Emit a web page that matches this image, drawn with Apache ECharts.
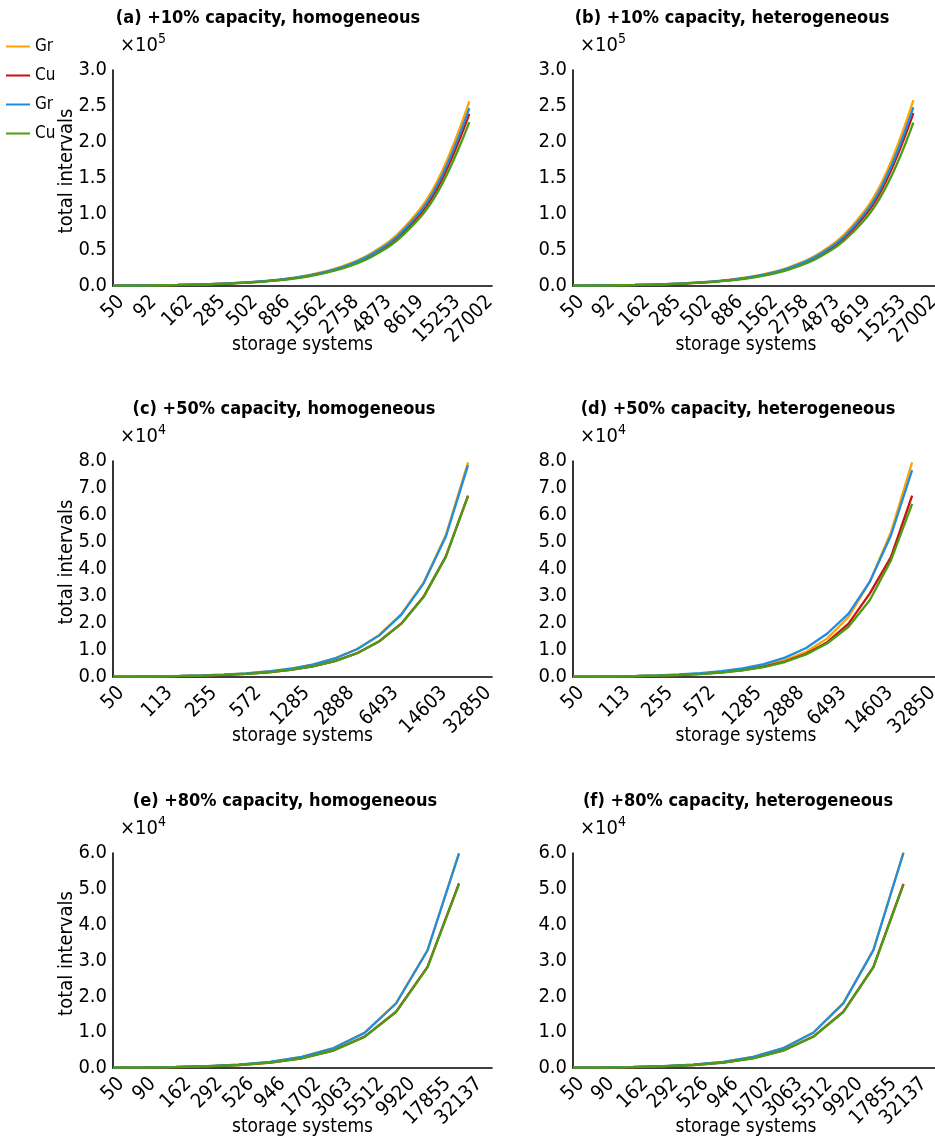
<!DOCTYPE html>
<html>
<head>
<meta charset="utf-8">
<script src="https://cdn.jsdelivr.net/npm/echarts@6/dist/echarts.min.js"></script>
<style>
  html, body { margin: 0; padding: 0; background: #fff; }
  #chart { width: 935px; height: 1142px; }
</style>
</head>
<body>
<div id="chart"></div>
<script>
// ---- storage-system counts (x categories) ----
const sys10 = [50, 92, 162, 285, 502, 886, 1562, 2758, 4873, 8619, 15253, 27002];
const sys50 = [50, 75, 113, 170, 255, 381, 572, 857, 1285, 1925, 2888, 4329, 6493, 9735, 14603, 21900, 32850];
const sys80 = [50, 90, 162, 292, 526, 946, 1702, 3063, 5512, 9920, 17855, 32137];

// ---- total intervals, +10% capacity ----
const a_gr1 = [480, 880, 1540, 2710, 4770, 8420, 14840, 26200, 46300, 81900, 144900, 256500];
const a_cu1 = [440, 815, 1430, 2520, 4440, 7840, 13820, 24400, 43100, 76200, 134900, 239000];
const a_gr2 = [460, 845, 1480, 2610, 4590, 8110, 14290, 25240, 44600, 78800, 139500, 247000];
const a_cu2 = [420, 775, 1365, 2400, 4230, 7470, 13170, 23250, 41100, 72700, 128600, 227600];

const b_gr1 = [485, 885, 1550, 2730, 4800, 8470, 14930, 26350, 46600, 82400, 145800, 258000];
const b_cu1 = [445, 820, 1440, 2530, 4460, 7880, 13880, 24500, 43300, 76600, 135600, 240000];
const b_gr2 = [465, 850, 1490, 2625, 4620, 8160, 14380, 25380, 44850, 79300, 140300, 248000];
const b_cu2 = [420, 772, 1360, 2395, 4220, 7450, 13140, 23200, 41000, 72500, 128300, 227000];

// ---- total intervals, +50% capacity ----
const c_gr1 = [120, 180, 270, 410, 610, 910, 1370, 2050, 3080, 4620, 6930, 10390, 15580, 23360, 35050, 52560, 79500];
const c_cu1 = [102, 153, 230, 347, 520, 777, 1167, 1748, 2620, 3930, 5890, 8830, 13240, 19850, 29780, 44670, 67200];
const c_gr2 = [118, 178, 268, 405, 605, 905, 1360, 2030, 3050, 4570, 6860, 10280, 15420, 23120, 34680, 52000, 78500];
const c_cu2 = [101, 152, 229, 345, 518, 774, 1162, 1742, 2610, 3910, 5870, 8800, 13190, 19780, 29670, 44500, 67000];

const d_gr1 = [108, 162, 244, 366, 550, 820, 1230, 1850, 2770, 4150, 6230, 9340, 14300, 22200, 35200, 53600, 79500];
const d_cu1 = [99, 149, 225, 338, 507, 758, 1138, 1705, 2557, 3830, 5740, 8610, 12900, 19800, 30900, 44400, 67200];
const d_gr2 = [124, 186, 280, 422, 632, 945, 1420, 2125, 3190, 4780, 7160, 10740, 16100, 23500, 35200, 52400, 76600];
const d_cu2 = [96, 144, 217, 327, 490, 733, 1100, 1648, 2470, 3700, 5550, 8320, 12500, 18600, 28400, 43200, 64100];

// ---- total intervals, +80% capacity ----
const e_gr1 = [91, 164, 294, 530, 955, 1720, 3100, 5530, 9850, 18100, 32900, 60000];
const e_cu1 = [80, 144, 259, 467, 840, 1510, 2720, 4880, 8750, 15700, 28200, 51500];
const e_gr2 = [90, 162, 292, 526, 950, 1710, 3080, 5500, 9800, 18000, 32800, 59800];
const e_cu2 = [79, 143, 257, 464, 835, 1500, 2700, 4830, 8700, 15600, 28100, 51300];

const f_gr1 = [92, 165, 296, 533, 960, 1730, 3110, 5560, 9900, 18200, 33000, 60200];
const f_cu1 = [80, 145, 260, 468, 842, 1515, 2725, 4890, 8770, 15750, 28250, 51400];
const f_gr2 = [90, 163, 293, 528, 952, 1715, 3090, 5520, 9830, 18050, 32900, 60000];
const f_cu2 = [79, 143, 258, 465, 836, 1502, 2705, 4840, 8710, 15620, 28120, 51200];

// ---- panel titles and legend labels ----
const panelTitles = [
  '(a) +10% capacity, homogeneous', '(b) +10% capacity, heterogeneous',
  '(c) +50% capacity, homogeneous', '(d) +50% capacity, heterogeneous',
  '(e) +80% capacity, homogeneous', '(f) +80% capacity, heterogeneous'
];
const seriesKeys = ['gr1', 'cu1', 'gr2', 'cu2'];
const legendLabels = { gr1: 'Gr', cu1: 'Cu', gr2: 'Gr', cu2: 'Cu' };

// ---- styling ----
const FONT = "'Liberation Sans Narrow', 'DejaVu Sans Condensed', 'Roboto Condensed', sans-serif";
const TICK_SIZE = 20;
const NAME_SIZE = 19;
const TITLE_SIZE = 18;
const COLORS = { gr1: '#FFA300', cu1: '#CC1010', gr2: '#1F8DE2', cu2: '#4A9C12' };
const LINE_W = 2.3;

const leftX = 113, rightX = 573, leftW = 379, rightW = 362;
const rowTop = [70, 461, 853];
const rowH = [216, 216, 215];

const measureCtx = document.createElement('canvas').getContext('2d');
function textWidth(s) {
  measureCtx.font = TICK_SIZE + 'px ' + FONT;
  return measureCtx.measureText(String(s)).width;
}

// Rotated tick labels centred under their tick: each label is pushed down
// according to its own length, so every label's bounding box starts at the same depth.
function xAxisFor(gridIndex, cats, max, step, isLeft) {
  const widths = cats.map(textWidth);
  const shownW = widths.filter((_, i) => i % step === 0);
  const lmin = Math.min.apply(null, shownW);
  const rich = {};
  cats.forEach((c, i) => {
    const p = 0.5 * (widths[i] - lmin);
    rich['t' + i] = { fontSize: TICK_SIZE, fontFamily: FONT, color: '#000', padding: [p, p, 0, 0] };
  });
  return {
    type: 'value', gridIndex, min: 0, max, interval: step,
    axisLine: { show: true, onZero: false, lineStyle: { color: '#000', width: 1.6 } },
    axisTick: { show: false },
    splitLine: { show: false },
    axisLabel: {
      rotate: 45, align: 'center', verticalAlign: 'middle',
      margin: 6 + 0.3535 * (TICK_SIZE + lmin),
      fontSize: TICK_SIZE, fontFamily: FONT, color: '#000',
      formatter: v => (Number.isInteger(v) && v < cats.length) ? '{t' + v + '|' + cats[v] + '}' : '',
      rich
    },
    name: 'storage systems', nameLocation: 'middle', nameGap: 50, nameMoveOverlap: false,
    nameTextStyle: { fontSize: NAME_SIZE, fontFamily: FONT, color: '#000',
                     padding: isLeft ? 0 : [0, 16, 0, 0] }
  };
}

function yAxisFor(gridIndex, max, interval, scale, withName) {
  return {
    type: 'value', gridIndex, min: 0, max, interval,
    axisLine: { show: true, lineStyle: { color: '#000', width: 1.6 } },
    axisTick: { show: false },
    splitLine: { show: false },
    axisLabel: {
      margin: 6, fontSize: TICK_SIZE, fontFamily: FONT, color: '#000',
      formatter: v => (v / scale).toFixed(1)
    },
    name: withName ? 'total intervals' : '', nameLocation: 'middle', nameGap: 36, nameMoveOverlap: false,
    nameTextStyle: { fontSize: 20, fontFamily: FONT, color: '#000', padding: [0, 0, 0, 14] }
  };
}

const panels = [
  { cats: sys10, xmax: 11.7, step: 1, ymax: 3e5, yint: 0.5e5, scale: 1e5, exp: '5', smooth: 0.4,
    data: { gr1: a_gr1, cu1: a_cu1, gr2: a_gr2, cu2: a_cu2 } },
  { cats: sys10, xmax: 11.7, step: 1, ymax: 3e5, yint: 0.5e5, scale: 1e5, exp: '5', smooth: 0.4,
    data: { gr1: b_gr1, cu1: b_cu1, gr2: b_gr2, cu2: b_cu2 } },
  { cats: sys50, xmax: 17.08, step: 2, ymax: 8e4, yint: 1e4, scale: 1e4, exp: '4', smooth: false,
    data: { gr1: c_gr1, cu1: c_cu1, gr2: c_gr2, cu2: c_cu2 } },
  { cats: sys50, xmax: 17.08, step: 2, ymax: 8e4, yint: 1e4, scale: 1e4, exp: '4', smooth: false,
    data: { gr1: d_gr1, cu1: d_cu1, gr2: d_gr2, cu2: d_cu2 } },
  { cats: sys80, xmax: 12.05, step: 1, ymax: 6e4, yint: 1e4, scale: 1e4, exp: '4', smooth: false,
    data: { gr1: e_gr1, cu1: e_cu1, gr2: e_gr2, cu2: e_cu2 } },
  { cats: sys80, xmax: 12.05, step: 1, ymax: 6e4, yint: 1e4, scale: 1e4, exp: '4', smooth: false,
    data: { gr1: f_gr1, cu1: f_cu1, gr2: f_gr2, cu2: f_cu2 } }
];

const titleCentres = [268, 732, 284, 738, 285, 738];

const grids = [], xAxes = [], yAxes = [], series = [], graphics = [];
panels.forEach((p, i) => {
  const row = Math.floor(i / 2), isLeft = i % 2 === 0;
  const left = isLeft ? leftX : rightX;
  grids.push({ left, top: rowTop[row], width: isLeft ? leftW : rightW, height: rowH[row],
               containLabel: false, outerBoundsMode: 'none' });
  xAxes.push(xAxisFor(i, p.cats, p.xmax, p.step, isLeft));
  yAxes.push(yAxisFor(i, p.ymax, p.yint, p.scale, isLeft));
  seriesKeys.forEach((k, si) => {
    series.push({
      type: 'line', name: k, xAxisIndex: i, yAxisIndex: i,
      data: p.data[k].map((v, j) => [j, v]),
      smooth: p.smooth, symbol: 'none', showSymbol: false,
      lineStyle: { width: LINE_W, color: COLORS[k] }, itemStyle: { color: COLORS[k] },
      z: 2 + si, animation: false
    });
  });
  graphics.push({
    type: 'text', x: titleCentres[i], y: rowTop[row] - 52,
    style: { text: panelTitles[i], font: 'bold ' + TITLE_SIZE + 'px ' + FONT, fill: '#000',
             textAlign: 'center', textVerticalAlign: 'middle' }
  });
  graphics.push({
    type: 'text', x: left + 7, y: rowTop[row] - 24,
    style: {
      text: '{a|\u00d710}{b|' + p.exp + '}', textVerticalAlign: 'middle',
      rich: {
        a: { fontSize: 20, fontFamily: FONT, fill: '#000', color: '#000' },
        b: { fontSize: 14, fontFamily: FONT, fill: '#000', color: '#000', padding: [0, 0, 14, 0] }
      }
    }
  });
});

const chart = echarts.init(document.getElementById('chart'), null, { renderer: 'canvas' });
chart.setOption({
  backgroundColor: '#fff',
  animation: false,
  legend: {
    data: seriesKeys, orient: 'vertical', left: 6, top: 38,
    icon: 'rect', itemWidth: 24, itemHeight: 2, itemGap: 12, padding: 0,
    formatter: name => legendLabels[name],
    textStyle: { fontSize: 17, fontFamily: FONT, color: '#000' }
  },
  grid: grids, xAxis: xAxes, yAxis: yAxes, series, graphic: graphics
});
</script>
</body>
</html>
